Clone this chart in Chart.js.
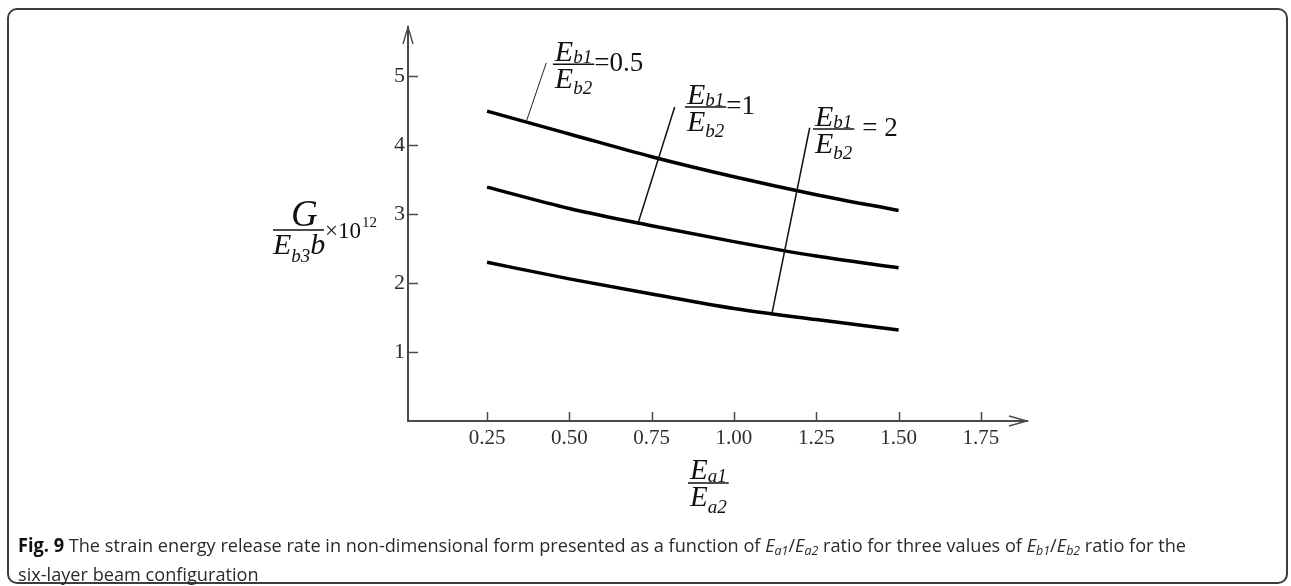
<!DOCTYPE html>
<html>
<head>
<meta charset="utf-8">
<script src="https://cdn.jsdelivr.net/npm/chart.js@4.4.0/dist/chart.umd.min.js"></script>
<style>
  html, body { margin: 0; padding: 0; background: #fff; }
  body { width: 1291px; height: 586px; position: relative; overflow: hidden; }
  #frame { position: absolute; left: 7px; top: 8px; width: 1281px; height: 576px; box-sizing: border-box;
           border: 2px solid #3c3c3c; border-radius: 10px; }
  #plot { position: absolute; left: 0; top: 0; }
  #caption { position: absolute; left: 18px; top: 531px; font-family: "Open Sans", sans-serif; font-size: 19px;
             line-height: 29px; color: #2a2a2a; white-space: nowrap; transform-origin: 0 0; }
  #caption b { color: #111; }
  #caption sub { font-size: 13px; line-height: 0; vertical-align: -3px; font-style: italic; }
</style>
</head>
<body>
<div id="frame"></div>
<canvas id="plot" width="1291" height="586"></canvas>
<div id="caption"><span id="capLine"><b>Fig. 9</b> The strain energy release rate in non-dimensional form presented as a function of <i>E</i><sub>a1</sub>/<i>E</i><sub>a2</sub> ratio for three values of <i>E</i><sub>b1</sub>/<i>E</i><sub>b2</sub> ratio for the</span><br>six-layer beam configuration</div>
<script>
// --- DATA ---
const ratioEa = [0.25, 0.50, 0.75, 1.00, 1.25, 1.50];
const gHalf = [4.49, 4.16, 3.83, 3.54, 3.28, 3.05];   // Eb1/Eb2 = 0.5
const gOne  = [3.39, 3.08, 2.83, 2.60, 2.39, 2.22];   // Eb1/Eb2 = 1
const gTwo  = [2.30, 2.06, 1.84, 1.63, 1.47, 1.32];   // Eb1/Eb2 = 2
const seriesRatios = ['=0.5', '=1', '= 2'];

const xTicks = [0.25, 0.50, 0.75, 1.00, 1.25, 1.50, 1.75];
const xTickLabels = ['0.25', '0.50', '0.75', '1.00', '1.25', '1.50', '1.75'];
const yTicks = [1, 2, 3, 4, 5];
const yTickLabels = ['1', '2', '3', '4', '5'];

const SERIF = '"Liberation Serif", "Times New Roman", serif';
const AXIS = '#4a4a4a';

function pts(ys) {
    return ratioEa.map((x, i) => ({ x, y: ys[i] }));
}

// italic letter followed by a smaller subscript, returns right edge
function letterSub(ctx, x, y, main, sub, size, subSize, drop) {
    ctx.font = `italic ${size}px ${SERIF}`;
    ctx.fillText(main, x, y);
    const w = ctx.measureText(main).width;
    ctx.font = `italic ${subSize}px ${SERIF}`;
    ctx.fillText(sub, x + w, y + drop);
    return x + w + ctx.measureText(sub).width;
}

// Eb1/Eb2 fraction with its value, bar starts at (bx, by)
function ratioLabel(ctx, bx, by, text, gap) {
    ctx.fillStyle = '#111';
    ctx.textAlign = 'left';
    ctx.textBaseline = 'alphabetic';
    const r1 = letterSub(ctx, bx + 2, by - 3, 'E', 'b1', 30, 19, 2);
    const r2 = letterSub(ctx, bx + 2, by + 24, 'E', 'b2', 30, 19, 6);
    const right = Math.max(r1, r2) + 2;
    ctx.strokeStyle = '#111';
    ctx.lineWidth = 1.5;
    ctx.beginPath(); ctx.moveTo(bx, by); ctx.lineTo(right, by); ctx.stroke();
    ctx.font = `27px ${SERIF}`;
    ctx.textBaseline = 'middle';
    ctx.fillText(text, right + gap, by);
}

// leader lines and labels, in data units
const leaders = [
    { top: [0.43, 5.19], foot: [0.37, 4.35], label: [0.45, 5.17], gap: 0 },
    { top: [0.82, 4.55], foot: [0.709, 2.87], label: [0.851, 4.55], gap: 0 },
    { top: [1.23, 4.25], foot: [1.115, 1.55], label: [1.24, 4.23], gap: 8 }
];

const decor = {
    id: 'decor',
    afterDraw(chart) {
        const { ctx, chartArea: a, scales: { x, y } } = chart;
        ctx.save();

        // inward tick marks
        ctx.strokeStyle = AXIS;
        ctx.lineWidth = 1.5;
        yTicks.forEach(v => {
            const py = Math.round(y.getPixelForValue(v)) + 0.5;
            ctx.beginPath(); ctx.moveTo(a.left, py); ctx.lineTo(a.left + 10, py); ctx.stroke();
        });
        xTicks.forEach(v => {
            const px = Math.round(x.getPixelForValue(v)) + 0.5;
            ctx.beginPath(); ctx.moveTo(px, a.bottom); ctx.lineTo(px, a.bottom - 9); ctx.stroke();
        });

        // arrow heads
        ctx.lineWidth = 1.4;
        ctx.beginPath();
        ctx.moveTo(a.left - 5, a.top + 17); ctx.lineTo(a.left, a.top); ctx.lineTo(a.left + 5, a.top + 17);
        ctx.stroke();
        ctx.beginPath();
        ctx.moveTo(a.right - 18, a.bottom - 5); ctx.lineTo(a.right, a.bottom); ctx.lineTo(a.right - 18, a.bottom + 5);
        ctx.stroke();

        // leader lines + ratio labels
        ctx.strokeStyle = '#222';
        ctx.lineWidth = 1;
        leaders.forEach((l, i) => {
            ctx.beginPath();
            ctx.moveTo(x.getPixelForValue(l.top[0]), y.getPixelForValue(l.top[1]));
            ctx.lineTo(x.getPixelForValue(l.foot[0]), y.getPixelForValue(l.foot[1]));
            ctx.stroke();
            ratioLabel(ctx, x.getPixelForValue(l.label[0]), y.getPixelForValue(l.label[1]), seriesRatios[i], l.gap);
        });

        // y axis title: G / (Eb3 b) x10^12
        ctx.fillStyle = '#111';
        ctx.strokeStyle = '#111';
        ctx.textAlign = 'left';
        ctx.textBaseline = 'alphabetic';
        const yl = a.left - 135, yb = 230;
        ctx.font = `italic 37px ${SERIF}`;
        ctx.fillText('G', yl + 18, yb - 4);
        ctx.lineWidth = 1.5;
        ctx.beginPath(); ctx.moveTo(yl, yb); ctx.lineTo(yl + 51, yb); ctx.stroke();
        const eb = letterSub(ctx, yl, yb + 24, 'E', 'b3', 30, 19, 8);
        ctx.font = `italic 30px ${SERIF}`;
        ctx.fillText('b', eb, yb + 24);
        ctx.font = `23px ${SERIF}`;
        ctx.fillText('\u00d710', yl + 52, yb + 8);
        ctx.font = `15px ${SERIF}`;
        ctx.fillText('12', yl + 89, yb - 3);

        // x axis title: Ea1 / Ea2
        const xl = 688, xb = 483;
        const n = letterSub(ctx, xl + 2, xb - 4, 'E', 'a1', 29, 19, 3);
        const d = letterSub(ctx, xl + 2, xb + 23, 'E', 'a2', 29, 19, 7);
        ctx.beginPath(); ctx.moveTo(xl, xb); ctx.lineTo(Math.max(n, d) + 2, xb); ctx.stroke();

        ctx.restore();
    }
};

const lineStyle = { borderColor: '#000', borderWidth: 3.5, pointRadius: 0, fill: false,
                    tension: 0.4, cubicInterpolationMode: 'monotone', borderCapStyle: 'butt' };

new Chart(document.getElementById('plot'), {
    type: 'line',
    data: {
        datasets: [
            { label: 'Eb1/Eb2 = 0.5', data: pts(gHalf), ...lineStyle },
            { label: 'Eb1/Eb2 = 1', data: pts(gOne), ...lineStyle },
            { label: 'Eb1/Eb2 = 2', data: pts(gTwo), ...lineStyle }
        ]
    },
    options: {
        responsive: false,
        animation: false,
        devicePixelRatio: 1,
        layout: { padding: { left: 358, right: 264, top: 27, bottom: 135 } },
        plugins: { legend: { display: false }, tooltip: { enabled: false } },
        scales: {
            x: {
                type: 'linear', min: 0.01, max: 1.89,
                afterBuildTicks: s => { s.ticks = xTicks.map(v => ({ value: v })); },
                afterFit: s => { s.height = 30; },
                grid: { display: false, drawTicks: false },
                border: { display: true, color: AXIS, width: 2 },
                ticks: {
                    padding: 5, color: '#2e2e2e', maxRotation: 0, autoSkip: false,
                    font: { family: SERIF, size: 21 },
                    callback: v => xTickLabels[xTicks.indexOf(v)]
                }
            },
            y: {
                type: 'linear', min: 0, max: 5.71,
                afterBuildTicks: s => { s.ticks = yTicks.map(v => ({ value: v })); },
                afterFit: s => { s.width = 50; },
                grid: { display: false, drawTicks: false },
                border: { display: true, color: AXIS, width: 2 },
                ticks: {
                    padding: 3, color: '#2e2e2e', autoSkip: false,
                    font: { family: SERIF, size: 22 },
                    callback: v => yTickLabels[yTicks.indexOf(v)]
                }
            }
        }
    },
    plugins: [decor]
});

// squeeze the caption so its first line spans the frame width
const cap = document.getElementById('caption');
const k = 1168 / document.getElementById('capLine').getBoundingClientRect().width;
cap.style.transform = `scaleX(${k})`;
</script>
</body>
</html>
